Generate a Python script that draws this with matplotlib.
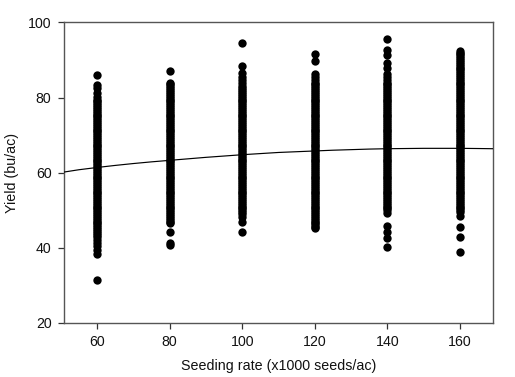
import matplotlib
matplotlib.use("Agg")
import matplotlib.pyplot as plt

plt.rcParams['font.family'] = ['Liberation Sans', 'DejaVu Sans']

rates = [60, 80, 100, 120, 140, 160]
yield_60 = [86, 83.4, 82.5, 81.3, 80.2, 79.5, 79, 78.5, 78, 77.5, 77, 76.5, 76, 75.5, 75, 74.5, 74, 73.5, 73, 72.5,
            72, 71.5, 71, 70.5, 70, 69.5, 69, 68.5, 68, 67.5, 67, 66.5, 66, 65.5, 65, 64.5, 64, 63.5, 63, 62.5,
            62, 61.5, 61, 60.5, 60, 59.5, 59, 58.5, 58, 57.5, 57, 56.5, 56, 55.5, 55, 54.5, 54, 53.5, 53, 52.5,
            52, 51.5, 51, 50.5, 50, 49.5, 49, 48.5, 48, 47.5, 47, 46.5, 46, 45.5, 45, 44.5, 44, 43.5, 43, 42.2,
            41.3, 40.5, 39.4, 38.4, 31.4]
yield_80 = [87, 83.8, 83.5, 83, 82.5, 82, 81.5, 81, 80.5, 80, 79.5, 79, 78.5, 78, 77.5, 77, 76.5, 76, 75.5, 75,
            74.5, 74, 73.5, 73, 72.5, 72, 71.5, 71, 70.5, 70, 69.5, 69, 68.5, 68, 67.5, 67, 66.5, 66, 65.5, 65,
            64.5, 64, 63.5, 63, 62.5, 62, 61.5, 61, 60.5, 60, 59.5, 59, 58.5, 58, 57.5, 57, 56.5, 56, 55.5, 55,
            54.5, 54, 53.5, 53, 52.5, 52, 51.5, 51, 50.5, 50, 49.5, 49, 48.5, 48, 47.5, 47, 46.5, 44.3, 41.2, 40.8]
yield_100 = [94.5, 88.5, 86.6, 85.6, 84.6, 83.8, 83, 82.5, 82, 81.5, 81, 80.5, 80, 79.5, 79, 78.5, 78, 77.5, 77, 76.5,
             76, 75.5, 75, 74.5, 74, 73.5, 73, 72.5, 72, 71.5, 71, 70.5, 70, 69.5, 69, 68.5, 68, 67.5, 67, 66.5,
             66, 65.5, 65, 64.5, 64, 63.5, 63, 62.5, 62, 61.5, 61, 60.5, 60, 59.5, 59, 58.5, 58, 57.5, 57, 56.5,
             56, 55.5, 55, 54.5, 54, 53.5, 53, 52.5, 52, 51.5, 51, 50.5, 50, 49.5, 49, 48.3, 47, 44.3]
yield_120 = [91.6, 89.8, 86.4, 85.5, 84.6, 84, 83.5, 83, 82.5, 82, 81.5, 81, 80.5, 80, 79.5, 79, 78.5, 78, 77.5, 77,
             76.5, 76, 75.5, 75, 74.5, 74, 73.5, 73, 72.5, 72, 71.5, 71, 70.5, 70, 69.5, 69, 68.5, 68, 67.5, 67,
             66.5, 66, 65.5, 65, 64.5, 64, 63.5, 63, 62.5, 62, 61.5, 61, 60.5, 60, 59.5, 59, 58.5, 58, 57.5, 57,
             56.5, 56, 55.5, 55, 54.5, 54, 53.5, 53, 52.5, 52, 51.5, 51, 50.5, 50, 49.5, 49, 48.5, 48, 47.5, 47,
             46.5, 46, 45.6, 45.2]
yield_140 = [95.7, 92.7, 91.3, 89.3, 87.8, 86.4, 85.4, 84.8, 84, 83.5, 83, 82.5, 82, 81.5, 81, 80.5, 80, 79.5, 79, 78.5,
             78, 77.5, 77, 76.5, 76, 75.5, 75, 74.5, 74, 73.5, 73, 72.5, 72, 71.5, 71, 70.5, 70, 69.5, 69, 68.5,
             68, 67.5, 67, 66.5, 66, 65.5, 65, 64.5, 64, 63.5, 63, 62.5, 62, 61.5, 61, 60.5, 60, 59.5, 59, 58.5,
             58, 57.5, 57, 56.5, 56, 55.5, 55, 54.5, 54, 53.5, 53, 52.5, 52, 51.5, 51, 50.5, 50, 49.4,
             45.8, 44.3, 42.5, 40.3]
yield_160 = [92.5, 92, 91.5, 91, 90.5, 90, 89.5, 89, 88.5, 88, 87.5, 87, 86.5, 86, 85.5, 85, 84.5, 84, 83.5, 83,
             82.5, 82, 81.5, 81, 80.5, 80, 79.5, 79, 78.5, 78, 77.5, 77, 76.5, 76, 75.5, 75, 74.5, 74, 73.5, 73,
             72.5, 72, 71.5, 71, 70.5, 70, 69.5, 69, 68.5, 68, 67.5, 67, 66.5, 66, 65.5, 65, 64.5, 64, 63.5, 63,
             62.5, 62, 61.5, 61, 60.5, 60, 59.5, 59, 58.5, 58, 57.5, 57, 56.5, 56, 55.5, 55, 54.5, 54, 53.5, 53,
             52.5, 52, 51.5, 51, 50.5, 50, 49.6, 48.6, 45.6, 43, 38.8]
yields = [yield_60, yield_80, yield_100, yield_120, yield_140, yield_160]

curve_x = [51, 55, 60, 65, 70, 75, 80, 85, 90, 95, 100, 105, 110, 115, 120, 125, 130, 135, 140, 145, 150, 155, 160, 165, 169]
curve_y = [60.2, 60.8, 61.4, 61.95, 62.45, 62.9, 63.3, 63.7, 64.1, 64.45, 64.8, 65.1, 65.4, 65.6, 65.8, 66.0, 66.15,
           66.3, 66.4, 66.45, 66.5, 66.5, 66.5, 66.45, 66.4]

W, H = 515, 377
fig = plt.figure(figsize=(W / 100, H / 100), dpi=100)
ax = fig.add_axes([64 / W, 1 - 323 / H, (492.5 - 64) / W, (323 - 22.5) / H])

for rate, ys in zip(rates, yields):
    ax.scatter([rate] * len(ys), ys, s=36, c='black', linewidths=0, zorder=2)
ax.plot(curve_x, curve_y, color='black', lw=0.85, zorder=3)

ax.set_xlim(50.9, 169)
ax.set_ylim(20, 100)
ax.set_xticks(rates)
ax.set_yticks([20, 40, 60, 80, 100])
ax.tick_params(length=4, width=0.9, color='#333333', labelsize=10.2, pad=5, labelcolor='#111111')
for s in ax.spines.values():
    s.set_linewidth(1.0)
    s.set_color('#555555')
ax.set_xlabel('Seeding rate (x1000 seeds/ac)', fontsize=10.3, labelpad=7, color='#111111')
ax.set_ylabel('Yield (bu/ac)', fontsize=10.3, labelpad=6.5, color='#111111')

fig.savefig('out.png', dpi=100)
